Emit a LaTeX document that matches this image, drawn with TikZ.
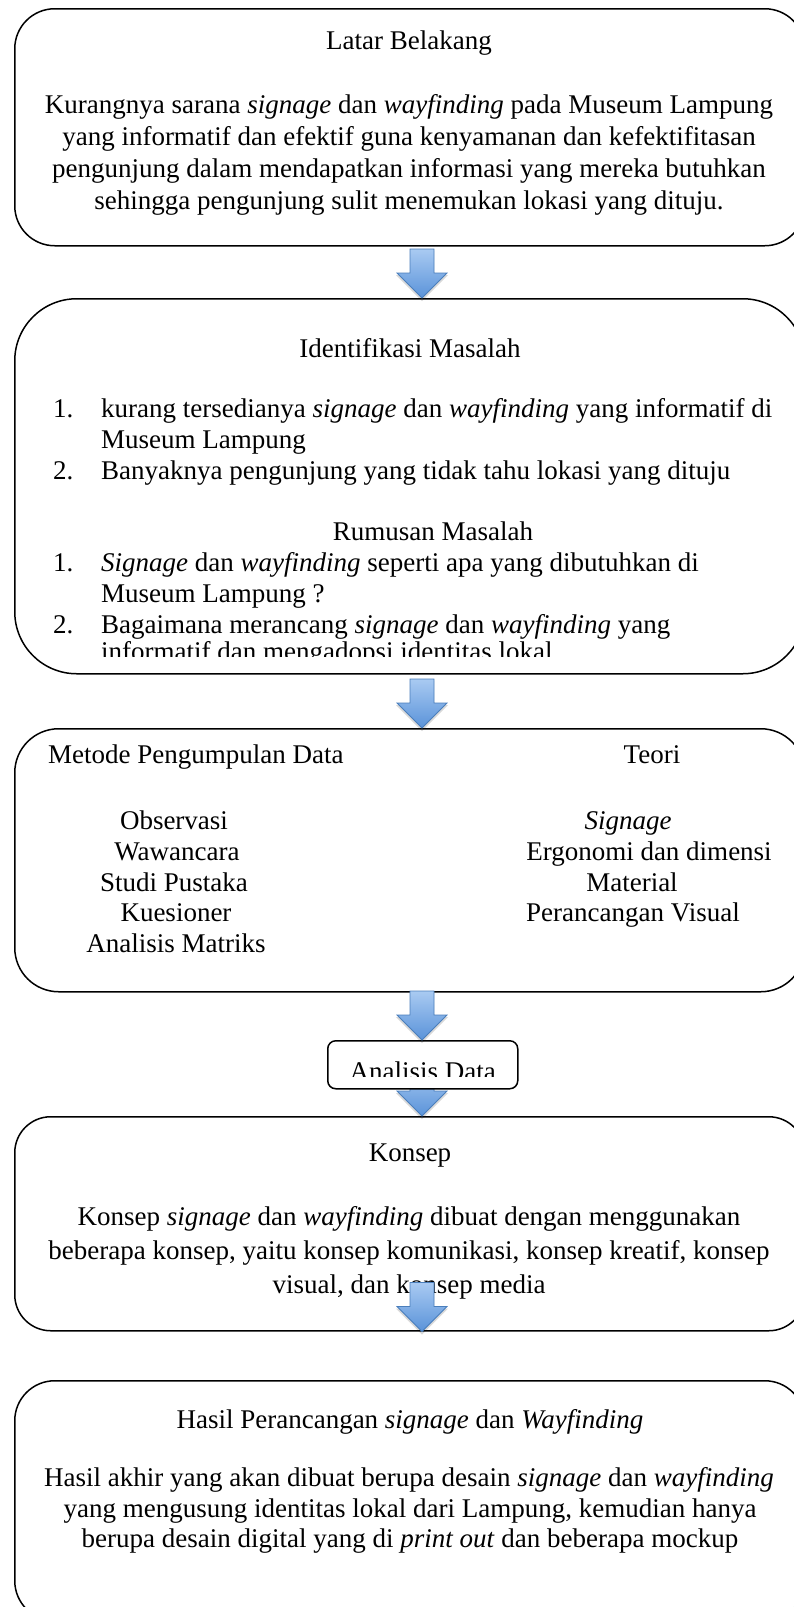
\documentclass[tikz,border=0pt]{standalone}
\usepackage{fontspec}
\setmainfont{Liberation Serif}
\newcommand\txtfs{\fontsize{27}{31}\selectfont}
\definecolor{arrtop}{HTML}{A9CAF2}
\definecolor{arrbot}{HTML}{5A93D9}
\definecolor{arrline}{HTML}{4A7EBB}
\tikzset{
  box/.style={draw=black, line width=1.5pt, fill=white, inner sep=0pt, anchor=north west},
  tl/.style={anchor=base, inner sep=0pt, font=\txtfs},
  tw/.style={anchor=base west, inner sep=0pt, font=\txtfs},
  pics/barrow/.style={code={
    \fill[black, opacity=0.15] (-12,-47) -- (12,-47) -- (12,-23) -- (26,-23) -- (0,3) -- (-26,-23) -- (-12,-23) -- cycle;
    \path[draw=arrline, line width=0.8pt, top color=arrtop, bottom color=arrbot]
      (-12,-49) -- (12,-49) -- (12,-25) -- (25,-25) -- (0,0) -- (-25,-25) -- (-12,-25) -- cycle;
  }}
}
\begin{document}
\begin{tikzpicture}[x=1pt,y=-1pt]
\useasboundingbox (0,0) rectangle (794,1607);
\fill[white] (0,0) rectangle (794,1607);
\coordinate (ax) at (422,0);

% Box 1
\node[box, rounded corners=40pt, minimum width=790pt, minimum height=237pt] (b1) at (14,8) {};
\node[tl] (t1) at (409,49) {Latar Belakang};
\node[tl] (t1a) at (409,113) {Kurangnya sarana \textit{signage} dan \textit{wayfinding} pada Museum Lampung};
\node[tl] (t1b) at (409,145) {yang informatif dan efektif guna kenyamanan dan kefektifitasan};
\node[tl] (t1c) at (409,177) {pengunjung dalam mendapatkan informasi yang mereka butuhkan};
\node[tl] (t1d) at (409,209) {sehingga pengunjung sulit menemukan lokasi yang dituju.};

% Box 2
\node[box, rounded corners=62pt, minimum width=790pt, minimum height=375pt] (b2) at (14,298) {};
\node[tl] (t2) at (410,357) {Identifikasi Masalah};
\node[tw] (n2a) at (53,417) {1.};
\node[tw] (t2a) at (101,417) {kurang tersedianya \textit{signage} dan \textit{wayfinding} yang informatif di};
\node[tw] (t2b) at (101,448) {Museum Lampung};
\node[tw] (n2c) at (53,479) {2.};
\node[tw] (t2c) at (101,479) {Banyaknya pengunjung yang tidak tahu lokasi yang dituju};
\node[tl] (t3) at (433,540) {Rumusan Masalah};
\node[tw] (n3a) at (53,571) {1.};
\node[tw] (t3a) at (101,571) {\textit{Signage} dan \textit{wayfinding} seperti apa yang dibutuhkan di};
\node[tw] (t3b) at (101,602) {Museum Lampung ?};
\node[tw] (n3c) at (53,633) {2.};
\node[tw] (t3c) at (101,633) {Bagaimana merancang \textit{signage} dan \textit{wayfinding} yang};
\begin{scope}
\clip (0,0) rectangle (794,656);
\node[tw] (t3d) at (101,660) {informatif dan mengadopsi identitas lokal};
\end{scope}

% Box 3
\node[box, rounded corners=44pt, minimum width=790pt, minimum height=263pt] (b3) at (14,728) {};
\node[tw] (t4) at (48,763) {Metode Pengumpulan Data};
\node[tl] (t5) at (652,763) {Teori};
\node[tl] (t4a) at (174,829) {Observasi};
\node[tl] (t4b) at (177,860) {Wawancara};
\node[tl] (t4c) at (174,891) {Studi Pustaka};
\node[tl] (t4d) at (176,921) {Kuesioner};
\node[tl] (t4e) at (176,952) {Analisis Matriks};
\node[tl] (t5a) at (628,829) {\textit{Signage}};
\node[tl] (t5b) at (649,860) {Ergonomi dan dimensi};
\node[tl] (t5c) at (632,891) {Material};
\node[tl] (t5d) at (633,921) {Perancangan Visual};

% Box 4
\node[box, rounded corners=36pt, minimum width=790pt, minimum height=214pt] (b4) at (14,1116) {};
\node[tl] (t6) at (410,1161) {Konsep};
\node[tl] (t6a) at (409,1225) {Konsep \textit{signage} dan \textit{wayfinding} dibuat dengan menggunakan};
\node[tl] (t6b) at (409,1259) {beberapa konsep, yaitu konsep komunikasi, konsep kreatif, konsep};
\node[tl] (t6c) at (409,1293) {visual, dan konsep media};

% Box 5
\node[box, rounded corners=40pt, minimum width=790pt, minimum height=240pt] (b5) at (14,1380) {};
\node[tl] (t7) at (410,1428) {Hasil Perancangan \textit{signage} dan \textit{Wayfinding}};
\node[tl] (t7a) at (409,1486) {Hasil akhir yang akan dibuat berupa desain \textit{signage} dan \textit{wayfinding}};
\node[tl] (t7b) at (410,1517) {yang mengusung identitas lokal dari Lampung, kemudian hanya};
\node[tl] (t7c) at (410,1547) {berupa desain digital yang di \textit{print out} dan beberapa mockup};

% arrow 4 (partly behind the Analisis Data box)
\pic (a4) at (ax |- b4.north) {barrow};

% Analisis Data box
\node[box, rounded corners=8pt, minimum width=190pt, minimum height=48pt] (b6) at (327,1040) {};
\begin{scope}
\clip (0,0) rectangle (794,1076);
\node[tl] (t8) at (b6.center |- 0,1080) {Analisis Data};
\end{scope}

% arrows
\pic (a1) at (ax |- b2.north) {barrow};
\pic (a2) at (ax |- b3.north) {barrow};
\pic (a3) at (ax |- b6.north) {barrow};
\pic (a5) at (ax |- b4.south) {barrow};
\end{tikzpicture}
\end{document}
